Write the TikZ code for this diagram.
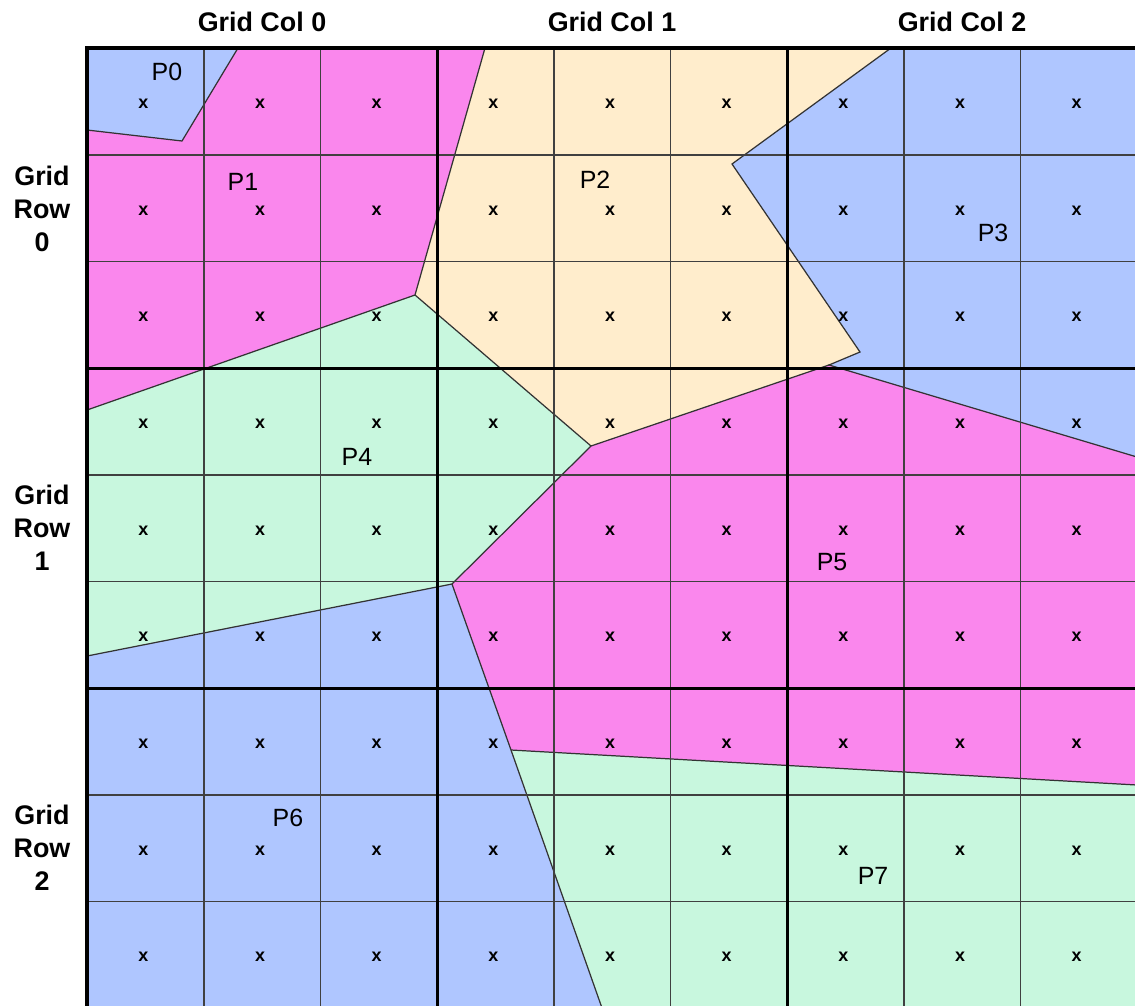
\documentclass[tikz,border=0pt]{standalone}
\usepackage{fontspec}
\setmainfont{Liberation Sans}
\usetikzlibrary{positioning}

\definecolor{cellblue}{RGB}{175,198,255}
\definecolor{cellpink}{RGB}{250,135,237}
\definecolor{cellbeige}{RGB}{255,237,204}
\definecolor{cellgreen}{RGB}{200,247,222}

\tikzset{
    region/.style={draw=black!80, line width=0.7pt},
    minorline/.style={draw=black!75, line width=0.95pt},
    majorline/.style={draw=black, line width=1.7pt},
    borderline/.style={draw=black, line width=2.6pt},
    cellmark/.style={font=\fontsize{10.2}{12}\selectfont\bfseries, inner sep=0pt, xshift=-0.04cm, yshift=-0.05cm},
    plabel/.style={font=\fontsize{14.2}{16}\selectfont, inner sep=0pt},
    headlabel/.style={font=\fontsize{15.3}{18.7}\selectfont\bfseries, inner sep=0pt, align=center}
}

\begin{document}
\begin{tikzpicture}[x=0.02cm,y=-0.02cm]
\useasboundingbox (0,0) rectangle (1135,1005);
\clip (0,0) rectangle (1135,1005);
    \coordinate (tl) at (87,48);
    \coordinate (tr) at (1137,48);
    \coordinate (bl) at (87,1008);
    \coordinate (br) at (1137,1008);
    \coordinate (a) at (238,48);
    \coordinate (b) at (182,141);
    \coordinate (c) at (87,130);
    \coordinate (d) at (485,48);
    \coordinate (e) at (415,295);
    \coordinate (f) at (87,410);
    \coordinate (g) at (891,48);
    \coordinate (h) at (732,164);
    \coordinate (i) at (860,352);
    \coordinate (j) at (829,365);
    \coordinate (k) at (591,446);
    \coordinate (l) at (1137,457);
    \coordinate (m) at (452,584);
    \coordinate (n) at (87,656);
    \coordinate (o) at (511,750);
    \coordinate (p) at (1137,785);
    \coordinate (q) at (602,1008);

    \fill[cellblue] (tl) -- (a) -- (b) -- (c) -- cycle;
    \fill[cellpink] (a) -- (d) -- (e) -- (f) -- (c) -- (b) -- cycle;
    \fill[cellbeige] (d) -- (g) -- (h) -- (i) -- (j) -- (k) -- (e) -- cycle;
    \fill[cellblue] (g) -- (tr) -- (l) -- (j) -- (i) -- (h) -- cycle;
    \fill[cellgreen] (e) -- (k) -- (m) -- (n) -- (f) -- cycle;
    \fill[cellpink] (j) -- (l) -- (p) -- (o) -- (m) -- (k) -- cycle;
    \fill[cellblue] (n) -- (m) -- (o) -- (q) -- (bl) -- cycle;
    \fill[cellgreen] (o) -- (p) -- (br) -- (q) -- cycle;

    \draw[region] (c) -- (b) -- (a);
    \draw[region] (d) -- (e) -- (f);
    \draw[region] (g) -- (h) -- (i) -- (j) -- (l);
    \draw[region] (e) -- (k) -- (j);
    \draw[region] (k) -- (m) -- (n);
    \draw[region] (m) -- (o) -- (q);
    \draw[region] (o) -- (p);

    \foreach \k in {1,2,4,5,7,8} {
        \draw[minorline] ({87+116.67*\k},48) -- ({87+116.67*\k},1008);
        \draw[minorline] (87,{48+106.67*\k}) -- (1137,{48+106.67*\k});
    }
    \foreach \k in {3,6} {
        \draw[majorline] ({87+116.67*\k},48) -- ({87+116.67*\k},1008);
        \draw[majorline] (87,{48+106.67*\k}) -- (1137,{48+106.67*\k});
    }
    \draw[borderline] (tl) rectangle (br);

    \foreach \col in {0,...,8}
        \foreach \row in {0,...,8}
            \node[cellmark] (x-\col-\row) at ({87+116.67*(\col+0.5)},{48+106.67*(\row+0.5)}) {x};

    \node[plabel] (p0) at (167,72) {P0};
    \node[plabel] (p1) at (243,182) {P1};
    \node[plabel] (p2) at (595,180) {P2};
    \node[plabel] (p3) at (993,233) {P3};
    \node[plabel] (p4) at (357,457) {P4};
    \node[plabel] (p5) at (832,562) {P5};
    \node[plabel] (p6) at (288,818) {P6};
    \node[plabel] (p7) at (873,876) {P7};

    \node[headlabel] (col0) at (262,22) {Grid Col 0};
    \node[headlabel] (col1) at (612,22) {Grid Col 1};
    \node[headlabel] (col2) at (962,22) {Grid Col 2};
    \node[headlabel] (row0) at (42,209) {Grid\\Row\\0};
    \node[headlabel] (row1) at (42,528) {Grid\\Row\\1};
    \node[headlabel] (row2) at (42,848) {Grid\\Row\\2};
\end{tikzpicture}
\end{document}
